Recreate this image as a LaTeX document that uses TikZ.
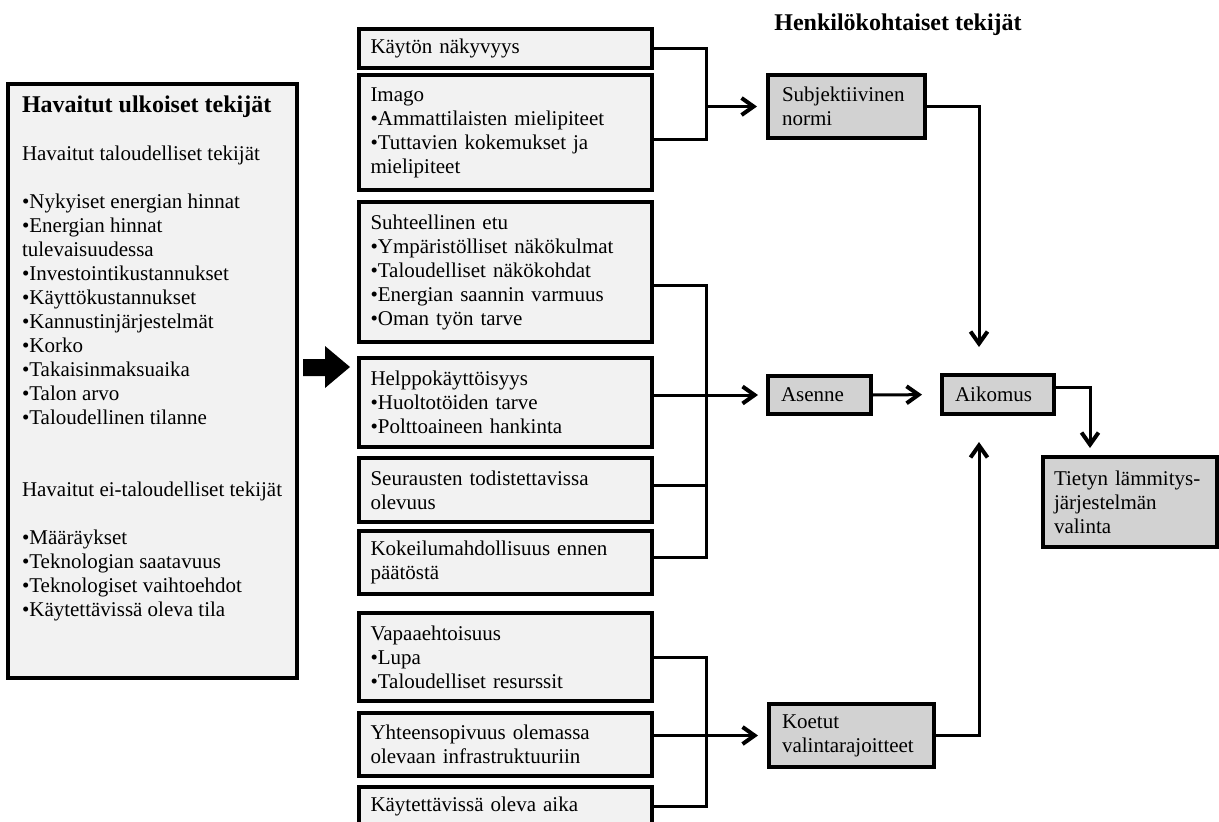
\documentclass[tikz,border=0pt]{standalone}
\usepackage{fontspec}
\setmainfont{Liberation Serif}
\usepackage{xcolor}
\usetikzlibrary{positioning, arrows.meta}

\definecolor{boxlight}{HTML}{F2F2F2}
\definecolor{boxdark}{HTML}{D2D2D2}

\begin{document}
\begin{tikzpicture}[x=0.5pt, y=-0.5pt,
        every node/.style={font=\fontsize{10.5}{12}\selectfont},
        midbox/.style={draw, line width=2pt, fill=boxlight, outer sep=0pt, anchor=north west, text width=135pt, inner xsep=5.75pt, align=left},
        rbox/.style={draw, line width=2pt, fill=boxdark, outer sep=0pt, anchor=north west, inner xsep=6.5pt, align=left},
        conn/.style={line width=1.5pt},
        arr/.style={conn, -{Straight Barb[length=6pt, width=8.5pt, line width=2pt]}}]
                    \useasboundingbox (0, 0) rectangle (1219, 821);

                    \node[draw, line width=2pt, fill=boxlight, outer sep=0pt, anchor=north west, inner xsep=7pt, inner ysep=6pt] (ext) at (8, 84) {\parbox[t][285pt][t]{130.5pt}{\raggedright
                        {\fontsize{12}{12}\selectfont\bfseries Havaitut ulkoiset tekijät}\\[12pt]
                        Havaitut taloudelliset tekijät\\[12pt]
                        •Nykyiset energian hinnat\\ •Energian hinnat\\ tulevaisuudessa\\ •Investointikustannukset\\ •Käyttökustannukset\\ •Kannustinjärjestelmät\\ •Korko\\ •Takaisinmaksuaika\\ •Talon arvo\\ •Taloudellinen tilanne\\[24pt]
                        Havaitut ei-taloudelliset tekijät\\[12pt]
                        •Määräykset\\ •Teknologian saatavuus\\ •Teknologiset vaihtoehdot\\ •Käytettävissä oleva tila}};

                    \fill (303, 359) -- (325, 359) -- (325, 346) -- (350, 367) -- (325, 388) -- (325, 376) -- (303, 376) -- cycle;

                    \node[midbox, minimum height=19.5pt] (kayton) at (359, 29) {Käytön näkyvyys};
                    \node[midbox, minimum height=57.5pt] (imago) at (359, 75) {Imago\\ •Ammattilaisten mielipiteet\\ •Tuttavien kokemukset ja\\ mielipiteet};
                    \node[midbox, minimum height=70pt] (suht) at (359, 202) {Suhteellinen etu\\ •Ympäristölliset näkökulmat\\ •Taloudelliset näkökohdat\\ •Energian saannin varmuus\\ •Oman työn tarve};
                    \node[midbox, minimum height=44.5pt] (helppo) at (359, 358) {Helppokäyttöisyys\\ •Huoltotöiden tarve\\ •Polttoaineen hankinta};
                    \node[midbox, minimum height=32pt] (seur) at (359, 458) {Seurausten todistettavissa\\ olevuus};
                    \node[midbox, minimum height=31.5pt] (kokeilu) at (359, 531) {Kokeilumahdollisuus ennen\\ päätöstä};
                    \node[midbox, minimum height=44pt] (vapaa) at (359, 613) {Vapaaehtoisuus\\ •Lupa\\ •Taloudelliset resurssit};
                    \node[midbox, minimum height=31.5pt] (yhteen) at (359, 713) {Yhteensopivuus olemassa\\ olevaan infrastruktuuriin};
                    \node[midbox, minimum height=19.5pt] (kaytett) at (359, 787) {Käytettävissä oleva aika};

                    \node[font=\fontsize{12}{12}\selectfont\bfseries] (henk) at (898, 25) {Henkilökohtaiset tekijät};
                    \node[rbox, text width=64.5pt, inner xsep=7pt, minimum height=31.5pt] (subj) at (768, 75) {Subjektiivinen\\ normi};
                    \node[rbox, text width=38.5pt, minimum height=19pt] (asenne) at (768, 376) {Asenne};
                    \node[rbox, text width=43pt, minimum height=19.5pt] (aikomus) at (942, 375) {Aikomus};
                    \node[rbox, text width=76pt, inner xsep=5.5pt, minimum height=45pt] (tietyn) at (1043, 457) {Tietyn lämmitys-\\ järjestelmän\\ valinta};
                    \node[rbox, text width=69.5pt, minimum height=31.5pt] (koetut) at (769, 704) {Koetut\\ valintarajoitteet};

                    \path (subj.west) ++(-62, 0) coordinate (sj);
                    \path (asenne.west) ++(-62, 0) coordinate (aj);
                    \path (koetut.west) ++(-63, 0) coordinate (kj);

                    \draw[conn] (kayton.east) -| (sj) |- ([yshift=-3.5pt]imago.east);
                    \draw[arr, shorten >=5.5pt] (sj) -- (subj.west);
                    \draw[conn] ([yshift=-6.5pt]suht.east) -| (aj) |- ([yshift=2.5pt]kokeilu.east);
                    \draw[conn] ([yshift=2.5pt]seur.east) -- ([yshift=2.5pt]seur.east -| aj);
                    \draw[arr, shorten >=5pt] (helppo.east |- asenne.west) -- (asenne.west);
                    \draw[conn] (vapaa.east) -| (kj) |- (kaytett.east);
                    \draw[arr, shorten >=5.5pt] (yhteen.east |- koetut.west) -- (koetut.west);

                    \draw[arr, shorten >=10pt] (asenne.east) -- (aikomus.west);
                    \draw[arr, shorten >=14pt] (subj.east) -| ([xshift=-9.5pt]aikomus.north);
                    \draw[arr, shorten >=14pt] (koetut.east) -| ([xshift=-9.5pt]aikomus.south);
                    \draw[arr, shorten >=4.5pt] ([yshift=3.5pt]aikomus.east) -| ([xshift=-20pt]tietyn.north);
                \end{tikzpicture}
\end{document}
